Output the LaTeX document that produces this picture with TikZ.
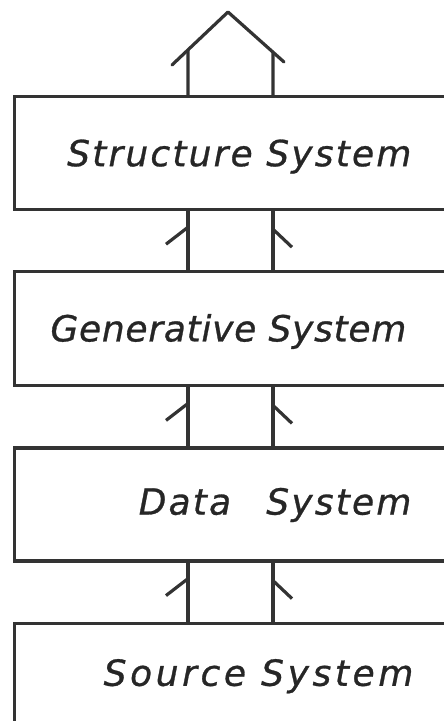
\documentclass[tikz,border=0pt]{standalone}
\usepackage{fontspec}
\setmainfont{DejaVu Sans}
\newfontfamily\letterfont[LetterSpace=6,FakeBold=0.8]{DejaVu Sans}
\usepackage{tikz}
\usetikzlibrary{positioning}

\begin{document}
\begin{tikzpicture}[x=1pt,y=1pt,line width=3.2pt,draw=black!80,
        node distance=59pt,
        sysbox/.style={draw,rectangle,minimum width=457pt,minimum height=113pt,inner sep=0pt},
        syslabel/.style={anchor=base east,inner sep=0pt,text=black!85,
          font=\letterfont\fontsize{36}{40}\selectfont\itshape}]

  \clip (0,0) rectangle (444,721);

  \node[sysbox,anchor=north west] (struct) at (13,626) {};
  \node[sysbox,minimum height=114pt] (gen) [below=of struct] {};
  \node[sysbox] (data) [below=of gen] {};
  \node[sysbox,minimum height=106pt] (src) [below=of data] {};

  \node[syslabel] (struct-lbl) at ([yshift=45pt]struct.south -| 413,0) {Structure System};
  \node[syslabel] (gen-lbl) at ([yshift=46pt]gen.south -| 408,0)
    {\addfontfeature{LetterSpace=2}Generative System};
  \node[syslabel] (data-lbl) at ([yshift=48pt]data.south -| 413,0) {Data\hspace{0.6em} System};
  \node[syslabel] (src-lbl) at ([yshift=45pt]src.south -| 415,0)
    {\addfontfeature{LetterSpace=10}Source System};

  \coordinate (L) at (188,0);
  \coordinate (R) at (273,0);

  % links between the levels
  \foreach \up/\dn in {struct/gen,gen/data,data/src} {
    \draw (\dn.north -| L) -- (\up.south -| L);
    \draw (\dn.north -| R) -- (\up.south -| R);
    \draw (\up.south -| L) ++(0,-16) -- ++(-22,-17);
    \draw (\up.south -| R) ++(0,-18) -- ++(19,-18);
  }

  % roof on top
  \coordinate (apex) at (228,709);
  \coordinate (lroof) at (172,656);
  \coordinate (rroof) at (284,659);
  \coordinate (Ltop) at (188,721);
  \coordinate (Rtop) at (273,721);
  \draw[line join=round,line cap=round] (lroof) -- (apex) -- (rroof);
  \draw (struct.north -| L) -- (intersection of L--Ltop and lroof--apex);
  \draw (struct.north -| R) -- (intersection of R--Rtop and apex--rroof);

\end{tikzpicture}
\end{document}
